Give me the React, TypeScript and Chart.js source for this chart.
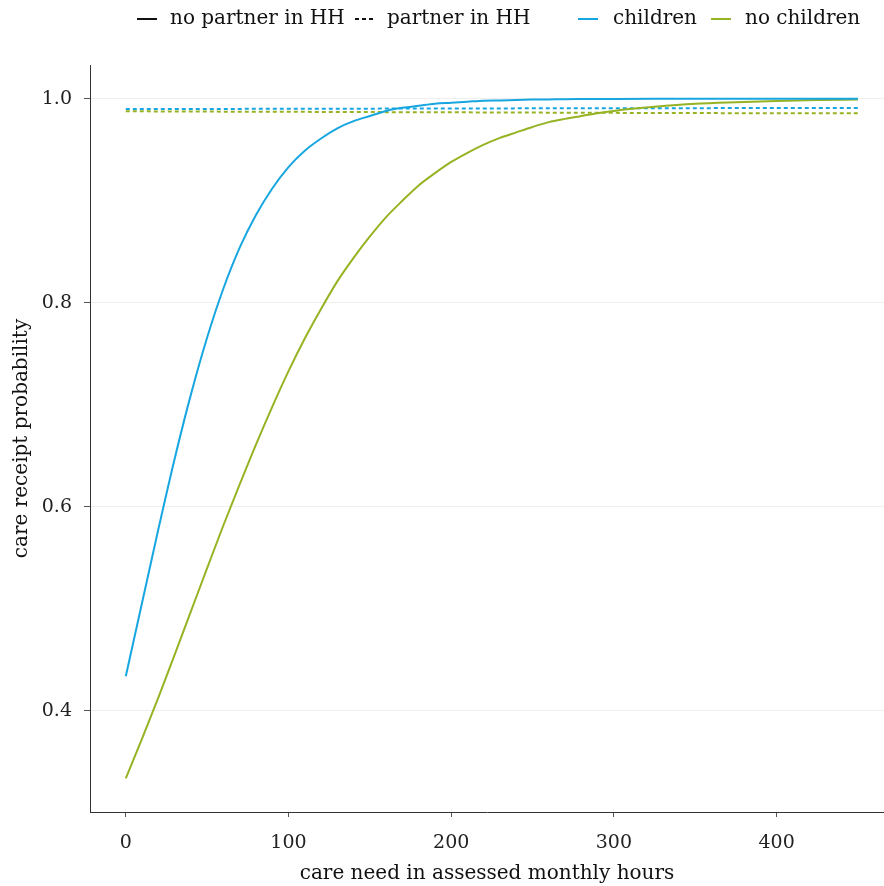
import React, { useEffect, useRef } from "react";
import { Chart, registerables } from "chart.js";

Chart.register(...registerables);

// ---- data ----
const hours = [0, 10, 20, 30, 40, 50, 60, 70, 80, 90, 100, 110, 120, 130, 140, 150, 160, 170, 180, 190, 200, 210, 220, 230, 240, 250, 260, 270, 280, 290, 300, 325, 350, 375, 400, 425, 450];

const childrenNoPartner = [0.434, 0.506, 0.578, 0.647, 0.710, 0.766, 0.814, 0.854, 0.886, 0.912, 0.933, 0.949, 0.961, 0.971, 0.978, 0.983, 0.988, 0.991, 0.993, 0.995, 0.996, 0.997, 0.998, 0.9983, 0.9988, 0.9991, 0.9993, 0.9995, 0.9996, 0.9997, 0.9998, 0.9999, 0.99995, 0.99997, 0.99998, 0.99999, 0.99999];

const noChildrenNoPartner = [0.334, 0.373, 0.413, 0.455, 0.4975, 0.540, 0.582, 0.622, 0.661, 0.698, 0.733, 0.765, 0.794, 0.821, 0.844, 0.865, 0.884, 0.900, 0.915, 0.927, 0.938, 0.947, 0.955, 0.9616, 0.967, 0.9723, 0.977, 0.9802, 0.983, 0.9858, 0.988, 0.992, 0.995, 0.9966, 0.9978, 0.9986, 0.9991];

const childrenPartner = [0.9899, 0.9899, 0.9899, 0.9899, 0.9900, 0.9900, 0.9900, 0.9900, 0.9901, 0.9901, 0.9901, 0.9901, 0.9902, 0.9902, 0.9902, 0.9902, 0.9903, 0.9903, 0.9903, 0.9903, 0.9904, 0.9904, 0.9904, 0.9904, 0.9905, 0.9905, 0.9905, 0.9905, 0.9906, 0.9906, 0.9906, 0.9907, 0.9907, 0.9908, 0.9908, 0.9909, 0.9909];

const noChildrenPartner = [0.9876, 0.9876, 0.9875, 0.9875, 0.9874, 0.9874, 0.9873, 0.9873, 0.9872, 0.9872, 0.9871, 0.9871, 0.9870, 0.9870, 0.9869, 0.9869, 0.9868, 0.9868, 0.9867, 0.9867, 0.9866, 0.9866, 0.9865, 0.9865, 0.9864, 0.9864, 0.9863, 0.9863, 0.9862, 0.9862, 0.9861, 0.9860, 0.9859, 0.9858, 0.9857, 0.9856, 0.9856];

const xTickValues = [0, 100, 200, 300, 400];
const yTickValues = [0.4, 0.6, 0.8, 1.0];

const legendLabels = ["no partner in HH", "partner in HH", "children", "no children"];

const BLUE = "#17a6e0";
const GREEN = "#95b322";
const FONT = '"DejaVu Serif", serif';

// legend layout (pixel positions of the swatches and text offsets)
const legendLayout = [
  { x: 137, w: 20, tx: 33 },
  { x: 355, w: 19, tx: 32 },
  { x: 578, w: 20, tx: 35 },
  { x: 711, w: 20, tx: 34 },
];

const legendPlugin = {
  id: "customLegend",
  afterDraw(chart: any) {
    const ctx = chart.ctx as CanvasRenderingContext2D;
    const styles = [
      { color: "#111", dash: [] as number[] },
      { color: "#111", dash: [4, 3] },
      { color: BLUE, dash: [] as number[] },
      { color: GREEN, dash: [] as number[] },
    ];
    ctx.save();
    ctx.font = "20px " + FONT;
    ctx.textBaseline = "middle";
    ctx.textAlign = "left";
    const y = 19;
    legendLabels.forEach((label, i) => {
      const L = legendLayout[i];
      const st = styles[i];
      ctx.beginPath();
      ctx.setLineDash(st.dash);
      ctx.strokeStyle = st.color;
      ctx.lineWidth = 2;
      ctx.moveTo(L.x, y);
      ctx.lineTo(L.x + L.w, y);
      ctx.stroke();
      ctx.setLineDash([]);
      ctx.fillStyle = "#111";
      ctx.fillText(label, L.x + L.tx, y);
    });
    ctx.restore();
  },
};

function toPoints(vals: number[]) {
  return hours.map((h, i) => ({ x: h, y: vals[i] }));
}

export default function App() {
  const ref = useRef<HTMLCanvasElement | null>(null);

  useEffect(() => {
    document.body.style.margin = "0";
    if (!ref.current) return;
    const common = {
      pointRadius: 0,
      borderWidth: 2,
      fill: false,
      cubicInterpolationMode: "monotone" as const,
    };
    const chart = new Chart(ref.current, {
      type: "line",
      data: {
        datasets: [
          { ...common, label: "children, no partner", data: toPoints(childrenNoPartner), borderColor: BLUE },
          { ...common, label: "no children, no partner", data: toPoints(noChildrenNoPartner), borderColor: GREEN },
          { ...common, label: "children, partner", data: toPoints(childrenPartner), borderColor: BLUE, borderDash: [4, 3] },
          { ...common, label: "no children, partner", data: toPoints(noChildrenPartner), borderColor: GREEN, borderDash: [4, 3] },
        ],
      },
      options: {
        animation: false,
        responsive: true,
        maintainAspectRatio: false,
        layout: { padding: { top: 65, right: 0, left: 0, bottom: 0 } },
        plugins: { legend: { display: false }, tooltip: { enabled: false } },
        scales: {
          x: {
            type: "linear",
            min: -22,
            max: 466,
            afterBuildTicks: (s: any) => {
              s.ticks = xTickValues.map((v) => ({ value: v }));
            },
            afterFit: (s: any) => {
              s.height = 74;
            },
            grid: { drawOnChartArea: false, drawTicks: true, tickLength: 5, tickColor: "#555" },
            border: { display: true, color: "#333", width: 1 },
            ticks: { color: "#222", font: { family: FONT, size: 19 }, padding: 15 },
            title: {
              display: true,
              text: "care need in assessed monthly hours",
              color: "#111",
              font: { family: FONT, size: 20 },
              padding: { top: 0, bottom: 0 },
            },
          },
          y: {
            type: "linear",
            min: 0.301,
            max: 1.033,
            afterBuildTicks: (s: any) => {
              s.ticks = yTickValues.map((v) => ({ value: v }));
            },
            afterFit: (s: any) => {
              s.width = 90;
            },
            grid: { color: "#efefef", lineWidth: 1, drawTicks: true, tickLength: 6, tickColor: "#555" },
            border: { display: true, color: "#333", width: 1 },
            ticks: {
              color: "#222",
              font: { family: FONT, size: 19 },
              padding: 12,
              callback: (v: any) => Number(v).toFixed(1),
            },
            title: {
              display: true,
              text: "care receipt probability",
              color: "#111",
              font: { family: FONT, size: 20 },
              padding: { top: 10, bottom: 0 },
            },
          },
        },
      },
      plugins: [legendPlugin],
    });
    return () => chart.destroy();
  }, []);

  return (
    <div style={{ position: "relative", width: 884, height: 886 }}>
      <canvas ref={ref} />
    </div>
  );
}
